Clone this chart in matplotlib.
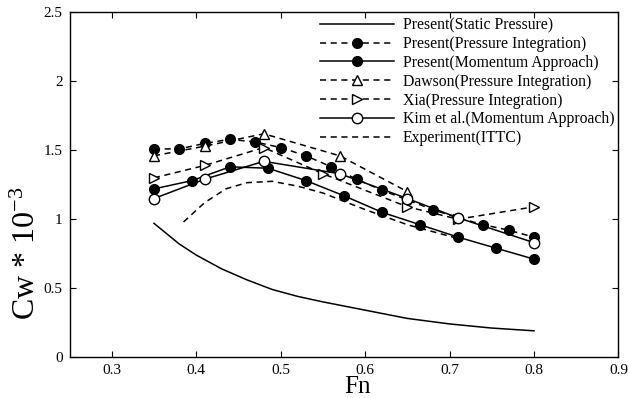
import matplotlib
matplotlib.use("Agg")
import matplotlib.pyplot as plt

plt.rcParams['font.family'] = ['Liberation Serif', 'DejaVu Serif']
plt.rcParams['mathtext.fontset'] = 'custom'
plt.rcParams['mathtext.rm'] = 'Liberation Serif'
plt.rcParams['mathtext.it'] = 'Liberation Serif:italic'

# --- Data ---
static_fn = [0.35, 0.38, 0.40, 0.43, 0.46, 0.49, 0.52, 0.55, 0.60, 0.65, 0.70, 0.75, 0.80]
static_cw = [0.97, 0.82, 0.74, 0.64, 0.56, 0.49, 0.44, 0.40, 0.34, 0.28, 0.24, 0.21, 0.19]

pi_fn = [0.35, 0.38, 0.41, 0.44, 0.47, 0.50, 0.53, 0.56, 0.59, 0.62, 0.65, 0.68, 0.71, 0.74, 0.77, 0.80]
pi_cw = [1.51, 1.51, 1.55, 1.58, 1.56, 1.52, 1.46, 1.38, 1.29, 1.21, 1.14, 1.07, 1.01, 0.96, 0.92, 0.87]

ma_fn = [0.35, 0.395, 0.44, 0.485, 0.53, 0.575, 0.62, 0.665, 0.71, 0.755, 0.80]
ma_cw = [1.22, 1.28, 1.38, 1.37, 1.28, 1.17, 1.05, 0.96, 0.87, 0.79, 0.71]

dawson_fn = [0.35, 0.41, 0.48, 0.57, 0.65]
dawson_cw = [1.46, 1.53, 1.62, 1.46, 1.20]

xia_fn = [0.35, 0.41, 0.48, 0.55, 0.65, 0.71, 0.80]
xia_cw = [1.30, 1.39, 1.52, 1.33, 1.09, 1.00, 1.09]

kim_fn = [0.35, 0.41, 0.48, 0.57, 0.65, 0.71, 0.80]
kim_cw = [1.15, 1.29, 1.42, 1.33, 1.15, 1.01, 0.83]

exp_fn = [0.385, 0.41, 0.435, 0.46, 0.49, 0.52, 0.55, 0.60, 0.65, 0.71]
exp_cw = [0.98, 1.12, 1.22, 1.265, 1.275, 1.24, 1.19, 1.07, 0.96, 0.86]

xticks = [0.3, 0.4, 0.5, 0.6, 0.7, 0.8, 0.9]
yticks = [0, 0.5, 1, 1.5, 2, 2.5]

# --- Plot ---
fig = plt.figure(figsize=(6.29, 3.98), dpi=100)
ax = fig.add_axes([0.1105, 0.103, 0.8728, 0.8656])

lw = 1.1
dash = (0, (4, 3))
ms = 7

ax.plot(static_fn, static_cw, color='black', lw=lw, label='Present(Static Pressure)')
ax.plot(pi_fn, pi_cw, color='black', lw=lw, ls=dash, marker='o', ms=ms,
        label='Present(Pressure Integration)')
ax.plot(ma_fn, ma_cw, color='black', lw=lw, marker='o', ms=ms,
        label='Present(Momentum Approach)')
ax.plot(dawson_fn, dawson_cw, color='black', lw=lw, ls=dash, marker='^', ms=6.5,
        mfc='white', mew=1.0, label='Dawson(Pressure Integration)')
ax.plot(xia_fn, xia_cw, color='black', lw=lw, ls=dash, marker='>', ms=6.5,
        mfc='white', mew=1.0, label='Xia(Pressure Integration)')
ax.plot(kim_fn, kim_cw, color='black', lw=lw, marker='o', ms=7.5,
        mfc='white', mew=1.0, label='Kim et al.(Momentum Approach)')
ax.plot(exp_fn, exp_cw, color='black', lw=lw, ls=dash, label='Experiment(ITTC)')

ax.set_xlim(0.25, 0.9)
ax.set_ylim(0, 2.5)
ax.set_xticks(xticks)
ax.set_yticks(yticks)
ax.set_xticklabels(['%g' % t for t in xticks])
ax.set_yticklabels(['%g' % t for t in yticks])
ax.tick_params(direction='in', length=4, width=0.8, top=True, right=True,
               labelsize=11, pad=5)
for s in ax.spines.values():
    s.set_linewidth(1.0)

ax.set_xlabel('Fn', fontsize=18)
ax.xaxis.set_label_coords(0.525, -0.055)
ax.set_ylabel(r'Cw * 10$^{-3}$', fontsize=23)
ax.yaxis.set_label_coords(-0.05, 0.30)

ax.legend(loc='upper left', bbox_to_anchor=(0.456, 0.986), frameon=False,
          fontsize=11.3, handlelength=4.7, handletextpad=0.6, numpoints=1,
          labelspacing=0.18, borderpad=0, borderaxespad=0)

fig.savefig('out.png', dpi=100)
